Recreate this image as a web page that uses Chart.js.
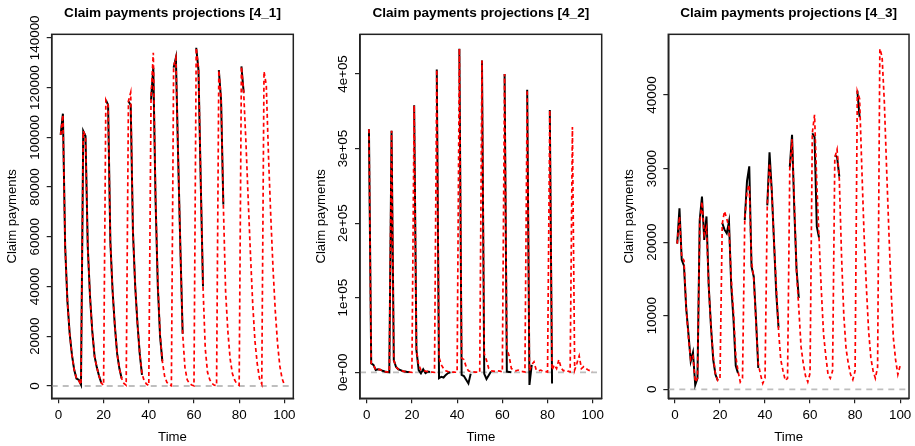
<!DOCTYPE html>
<html><head><meta charset="utf-8">
<script src="https://cdn.jsdelivr.net/npm/chart.js@4/dist/chart.umd.min.js"></script>
<style>
html,body{margin:0;padding:0;background:#fff;}
#wrap{position:relative;width:915px;height:446px;overflow:hidden;}
.pan{position:absolute;top:0;width:305px;height:446px;}
canvas{display:block;}
</style></head><body>
<div id="wrap">
<div class="pan" style="left:0px"><canvas id="c1" width="305" height="446"></canvas></div>
<div class="pan" style="left:305px"><canvas id="c2" width="305" height="446"></canvas></div>
<div class="pan" style="left:610px"><canvas id="c3" width="305" height="446"></canvas></div>
</div>
<script>
// ---------------- DATA ----------------
const time = Array.from({length: 100}, (_, i) => i + 1);

const titles = ["Claim payments projections [4_1]", "Claim payments projections [4_2]", "Claim payments projections [4_3]"];
const xLabel = "Time";
const yLabel = "Claim payments";

const xTicks = [0, 20, 40, 60, 80, 100];
const xTickLabels = ["0", "20", "40", "60", "80", "100"];

const yTicks_4_1 = [0, 20000, 40000, 60000, 80000, 100000, 120000, 140000];
const yTickLabels_4_1 = ["0", "20000", "40000", "60000", "80000", "100000", "120000", "140000"];
const yTicks_4_2 = [0, 100000, 200000, 300000, 400000];
const yTickLabels_4_2 = ["0e+00", "1e+05", "2e+05", "3e+05", "4e+05"];
const yTicks_4_3 = [0, 10000, 20000, 30000, 40000];
const yTickLabels_4_3 = ["0", "10000", "20000", "30000", "40000"];

// actual claim payments (black), null = not yet observed
const actual_4_1 = [
  101000, 109500, 56000, 34000, 21000, 12500, 6500, 3000, 2500, 500,
  102500, 100500, 56000, 36000, 22000, 12000, 7500, 4000, 1200, null,
  115000, 113000, 58000, 38000, 24000, 13000, 7000, 3000, null, null,
  114500, 113000, 62000, 40000, 25000, 13000, 4500, null, null, null,
  115000, 128000, 75000, 40000, 20000, 10000, null, null, null, null,
  128000, 132000, 92000, 55000, 21000, null, null, null, null, null,
  136000, 127000, 82000, 40000, null, null, null, null, null, null,
  127000, 115000, 73000, null, null, null, null, null, null, null,
  128500, 118000, null, null, null, null, null, null, null, null,
  126500, null, null, null, null, null, null, null, null, null
];
// projections (red dashed)
const projected_4_1 = [
  101000, 109000, 56000, 34000, 21000, 12500, 6500, 3000, 2200, 500,
  102500, 100500, 56000, 36000, 22000, 12000, 7500, 4000, 1200, 300,
  115000, 113000, 58000, 38000, 24000, 13000, 7000, 3000, 1000, 300,
  114500, 118000, 62000, 40000, 25000, 13000, 5000, 2000, 800, 200,
  116000, 134000, 76000, 42000, 21000, 10000, 4000, 1500, 500, 100,
  128500, 132000, 92000, 55000, 21000, 7500, 2500, 1000, 400, 100,
  136000, 128000, 83000, 40000, 15000, 5500, 2500, 1000, 300, 200,
  127000, 116000, 73000, 38000, 22000, 11000, 5000, 2400, 800, 300,
  128500, 118000, 98000, 75000, 53000, 33000, 18000, 9000, 3000, 800,
  126500, 121000, 92000, 68000, 47000, 30000, 17000, 8000, 3000, 500
];

const actual_4_2 = [
  326000, 12000, 10000, 3000, 4000, 3500, 2000, 1000, 500, 0,
  324000, 16000, 7000, 4000, 3000, 1500, 1000, 500, 300, null,
  358000, 30000, 3000, -1500, 4000, -1000, 1000, 500, null, null,
  406000, -8000, -6000, -7000, -3500, -1000, 0, null, null, null,
  434000, -3500, -5000, -10000, -15000, -2000, null, null, null, null,
  418000, -2000, -9000, -4000, 1000, null, null, null, null, null,
  400000, 1000, 500, 0, null, null, null, null, null, null,
  379000, -17000, 10000, null, null, null, null, null, null, null,
  351700, -15000, null, null, null, null, null, null, null, null,
  329000, null, null, null, null, null, null, null, null, null
];
const projected_4_2 = [
  326000, 12000, 10000, 3000, 4000, 3500, 2000, 1000, 500, 0,
  324000, 16000, 7000, 4000, 3000, 1500, 1000, 500, 300, 0,
  358000, 30000, 10000, 3000, 2000, 1500, 1000, 500, 300, 0,
  406000, 20000, 10000, 5000, 2000, 1000, 500, 300, 100, 0,
  434000, 19000, 17000, 7500, 2000, 1000, 500, 300, 200, 100,
  418000, 25000, 16000, 5000, 2000, 1500, 1000, 2000, 1500, 500,
  400000, 32000, 22000, 5000, 3000, 2000, 3000, 1500, 1000, 500,
  379000, 2000, 10000, 14000, 3000, 2000, 3000, 1500, 1000, 500,
  351700, 3000, 10000, 5000, 17000, 6000, 2000, 3000, 1500, 500,
  329000, 3000, 12000, 22000, 5000, 7500, 5000, 3000, 2000, 1000
];

const actual_4_3 = [
  19800, 24600, 17600, 16800, 11000, 7500, 3800, 5000, 600, 1500,
  23000, 26200, 20300, 23500, 14000, 8500, 4000, 2000, 1200, null,
  22600, 21700, 21200, 22800, 14000, 9500, 3200, 2200, null, null,
  23000, 28300, 30300, 16700, 15300, 9500, 2900, null, null, null,
  25000, 32200, 27000, 20000, 13000, 8400, null, null, null, null,
  30200, 34600, 24500, 16300, 12400, null, null, null, null, null,
  34800, 34300, 22100, 20600, null, null, null, null, null, null,
  31800, 31600, 28900, null, null, null, null, null, null, null,
  40600, 37000, null, null, null, null, null, null, null, null,
  46300, null, null, null, null, null, null, null, null, null
];
const projected_4_3 = [
  19800, 23500, 18000, 17500, 11000, 7000, 4000, 4500, 1000, 1500,
  22500, 25500, 21000, 22000, 14000, 8500, 4500, 2000, 1200, 1500,
  22500, 24200, 23200, 22000, 15000, 10500, 4500, 2500, 1000, 1500,
  23000, 27000, 27800, 17500, 15000, 9000, 3500, 2000, 800, 1500,
  25000, 30700, 27000, 20000, 14000, 8000, 4000, 2500, 1200, 1500,
  30000, 34000, 25500, 16000, 11000, 5800, 3500, 1800, 1000, 2200,
  34800, 37300, 28000, 20500, 13500, 7500, 4500, 2000, 1500, 2500,
  31500, 32600, 28500, 18000, 10000, 5500, 3500, 2000, 1300, 2500,
  40500, 39500, 30000, 21000, 14000, 8000, 4300, 2500, 1500, 3000,
  46300, 45200, 39000, 30000, 21500, 13500, 7000, 4000, 2000, 3200
];

// ---------------- LAYOUT / STYLE ----------------
const FONT = "'Liberation Sans', Arial, Helvetica, sans-serif";
const X_MIN = -2.96, X_MAX = 103.96;
const AXIS_COL = '#222';

const panels = [
  {id: 'c1', title: titles[0], actual: actual_4_1, proj: projected_4_1, yMin: -4950, yMax: 141400,
   yTicks: yTicks_4_1, yTickLabels: yTickLabels_4_1, padL: 3.7, padR: 11.7},
  {id: 'c2', title: titles[1], actual: actual_4_2, proj: projected_4_2, yMin: -34870, yMax: 453200,
   yTicks: yTicks_4_2, yTickLabels: yTickLabels_4_2, padL: 7, padR: 8.3},
  {id: 'c3', title: titles[2], actual: actual_4_3, proj: projected_4_3, yMin: -1223, yMax: 48250,
   yTicks: yTicks_4_3, yTickLabels: yTickLabels_4_3, padL: 10.3, padR: 5}
];

const boxPlugin = {
  id: 'rbox',
  afterDraw(chart) {
    const a = chart.chartArea, ctx = chart.ctx;
    ctx.save();
    ctx.strokeStyle = AXIS_COL;
    ctx.lineWidth = 1.5;
    ctx.strokeRect(a.left, a.top, a.right - a.left, a.bottom - a.top);
    ctx.restore();
  }
};

function yLabelPlugin(labels, ticks) {
  return {
    id: 'ylabels',
    afterDraw(chart) {
      const s = chart.scales.y, ctx = chart.ctx, a = chart.chartArea;
      ctx.save();
      ctx.font = '13.4px ' + FONT;
      ctx.fillStyle = '#000';
      ctx.textAlign = 'center';
      ctx.textBaseline = 'alphabetic';
      s.ticks.forEach(t => {
        const idx = ticks.indexOf(t.value);
        if (idx < 0) return;
        const y = s.getPixelForValue(t.value);
        ctx.save();
        ctx.translate(a.left - 12.8, y);
        ctx.rotate(-Math.PI / 2);
        ctx.fillText(labels[idx], 0, 0);
        ctx.restore();
      });
      ctx.restore();
    }
  };
}

const pts = arr => time.map((t, i) => ({x: t, y: arr[i]}));

panels.forEach(p => {
  const tickFont = {family: FONT, size: 13.2};
  new Chart(document.getElementById(p.id), {
    type: 'line',
    data: {
      datasets: [
        {label: 'Projected', data: pts(p.proj), borderColor: '#ff0000', borderWidth: 1.7,
         borderDash: [4, 3], pointRadius: 0, tension: 0, fill: false, spanGaps: false, order: 0},
        {label: 'Actual', data: pts(p.actual), borderColor: '#000000', borderWidth: 2,
         pointRadius: 0, tension: 0, fill: false, spanGaps: false, order: 1},
        {label: 'Zero', data: [{x: X_MIN, y: 0}, {x: X_MAX, y: 0}], borderColor: '#bebebe',
         borderWidth: 1.8, borderDash: [6, 5], pointRadius: 0, fill: false, order: 2}
      ]
    },
    options: {
      responsive: false, animation: false, devicePixelRatio: 1,
      events: [],
      layout: {padding: {left: p.padL, right: p.padR, top: 0, bottom: 0}},
      plugins: {
        legend: {display: false},
        tooltip: {enabled: false},
        title: {display: true, text: p.title, fullSize: false, color: '#000',
                font: {family: FONT, size: 13.6, weight: 'bold'}, padding: {top: 5.2, bottom: 12.8}}
      },
      scales: {
        x: {
          type: 'linear', min: X_MIN, max: X_MAX,
          afterBuildTicks: s => { s.ticks = xTicks.map(v => ({value: v})); },
          afterFit: s => { s.height = 47.7; },
          ticks: {callback: v => xTickLabels[xTicks.indexOf(v)], font: {family: FONT, size: 13.4}, color: '#000',
                  padding: 3.5, maxRotation: 0, minRotation: 0, autoSkip: false},
          grid: {display: true, drawOnChartArea: false, drawTicks: true, tickLength: 5,
                 color: AXIS_COL, lineWidth: 1.2},
          border: {display: true, color: AXIS_COL, width: 1.5},
          title: {display: true, text: xLabel, font: tickFont, color: '#000', padding: {top: 0, bottom: 1.0}}
        },
        y: {
          type: 'linear', min: p.yMin, max: p.yMax,
          afterBuildTicks: s => { s.ticks = p.yTicks.map(v => ({value: v})); },
          afterFit: s => { s.width = 48; },
          ticks: {display: false},
          grid: {display: true, drawOnChartArea: false, drawTicks: true, tickLength: 5,
                 color: AXIS_COL, lineWidth: 1.2},
          border: {display: true, color: AXIS_COL, width: 1.5},
          title: {display: true, text: yLabel, font: tickFont, color: '#000', padding: {top: 1.2, bottom: 0}}
        }
      }
    },
    plugins: [boxPlugin, yLabelPlugin(p.yTickLabels, p.yTicks)]
  });
});
</script>
</body></html>
